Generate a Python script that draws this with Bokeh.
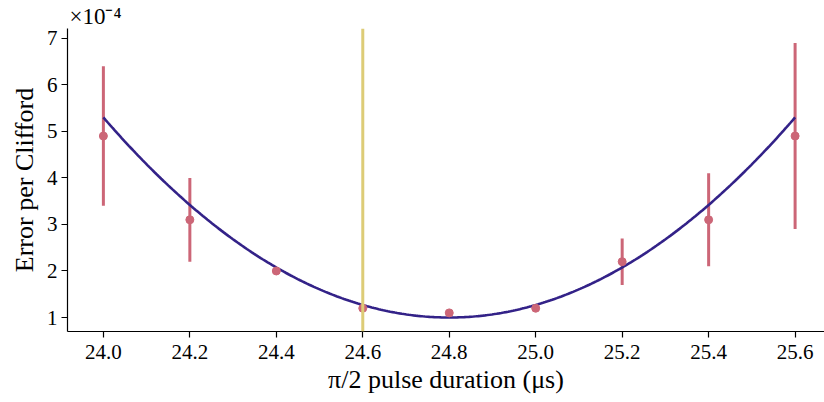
import numpy as np
from bokeh.plotting import figure
from bokeh.models import Span, Range1d, FixedTicker
from bokeh.embed import file_html
from bokeh.resources import INLINE

# data (x in microseconds, y in units of 1e-4)
pulse = [24.0, 24.2, 24.4, 24.6, 24.8, 25.0, 25.2, 25.4, 25.6]
epc = [4.9, 3.1, 2.0, 1.2, 1.1, 1.2, 2.2, 3.1, 4.9]
epc_lo = [3.4, 2.2, 1.95, 1.15, 1.05, 1.15, 1.7, 2.1, 2.9]
epc_hi = [6.4, 4.0, 2.05, 1.25, 1.15, 1.25, 2.7, 4.1, 6.9]

# fit curve values
fit_x = [24.0, 24.1, 24.2, 24.3, 24.4, 24.5, 24.6, 24.7, 24.8,
         24.9, 25.0, 25.1, 25.2, 25.3, 25.4, 25.5, 25.6]
fit_y = [5.30, 4.29, 3.42, 2.68, 2.08, 1.60, 1.27, 1.07, 1.00,
         1.07, 1.27, 1.60, 2.08, 2.68, 3.42, 4.29, 5.30]

marker_x = 24.6
x_ticks = [24.0, 24.2, 24.4, 24.6, 24.8, 25.0, 25.2, 25.4, 25.6]
y_ticks = [1, 2, 3, 4, 5, 6, 7]
scale_text = "×10⁻⁴"

FONT = "Liberation Serif"
INDIGO = "#332288"
ROSE = "#CC6677"
SAND = "#DDCC77"

p = figure(width=824, height=402, output_backend="svg", toolbar_location=None,
           x_range=Range1d(23.917, 25.668), y_range=Range1d(0.70, 7.21),
           min_border_left=67, min_border_right=0, min_border_top=28, min_border_bottom=71)
p.outline_line_color = None
p.grid.visible = False
p.background_fill_color = "white"
p.border_fill_color = "white"

p.title.text = scale_text
p.title.text_font = FONT
p.title.text_font_size = "23px"
p.title.text_font_style = "normal"
p.title.text_color = "black"
p.title.align = "left"
p.title.offset = 2
p.title.standoff = 0

p.add_layout(Span(location=marker_x, dimension="height", line_color=SAND, line_width=3))

p.segment(x0=pulse, y0=epc_lo, x1=pulse, y1=epc_hi, line_color=ROSE, line_width=3)

coef = np.polyfit(fit_x, fit_y, 2)
xs = np.linspace(fit_x[0], fit_x[-1], 300)
p.line(xs, np.polyval(coef, xs), line_color=INDIGO, line_width=2.6)

p.scatter(pulse, epc, size=8, fill_color=ROSE, line_color=ROSE)

for ax in (p.xaxis[0], p.yaxis[0]):
    ax.axis_line_color = "black"
    ax.axis_line_width = 1.2
    ax.major_tick_line_color = "black"
    ax.major_tick_line_width = 1.2
    ax.major_tick_out = 6
    ax.major_tick_in = 0
    ax.minor_tick_line_color = None
    ax.major_label_text_font = FONT
    ax.major_label_text_font_size = "21px"
    ax.major_label_text_color = "black"
    ax.axis_label_text_font = FONT
    ax.axis_label_text_font_style = "normal"
    ax.axis_label_text_font_size = "26px"
    ax.axis_label_text_color = "black"

p.xaxis.ticker = FixedTicker(ticks=x_ticks)
p.yaxis.ticker = FixedTicker(ticks=y_ticks)
p.xaxis.major_label_overrides = {t: f"{t:.1f}" for t in x_ticks}
p.xaxis.axis_label = "π/2 pulse duration (μs)"
p.yaxis.axis_label = "Error per Clifford"
p.xaxis.major_label_standoff = 7
p.yaxis.major_label_standoff = 4
p.xaxis.axis_label_standoff = 3
p.yaxis.axis_label_standoff = 5

open("out.html", "w").write(file_html(p, INLINE))
